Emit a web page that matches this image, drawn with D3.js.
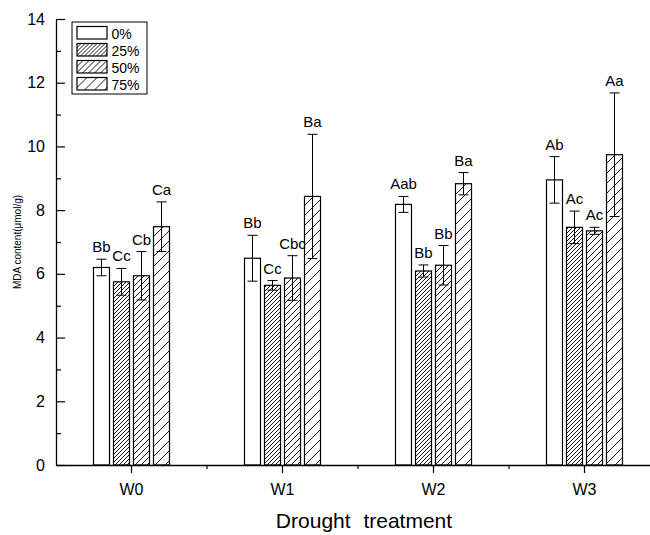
<!DOCTYPE html>
<html>
<head>
<meta charset="utf-8">
<script src="https://cdn.jsdelivr.net/npm/d3@7"></script>
<style>
  body { margin: 0; background: #fff; }
  svg text { font-family: "Liberation Sans", Arial, sans-serif; fill: #000; }
</style>
</head>
<body>
<div id="chart"></div>
<script>
// treatments on the x axis and the four drought levels (series)
const categories = ["W0", "W1", "W2", "W3"];
const series = ["0%", "25%", "50%", "75%"];

// MDA content per series, one value per treatment
const mean0 = [6.20, 6.49, 8.18, 8.95];
const mean25 = [5.75, 5.64, 6.09, 7.46];
const mean50 = [5.94, 5.87, 6.27, 7.35];
const mean75 = [7.48, 8.43, 8.83, 9.74];

// standard deviations
const err0 = [0.26, 0.72, 0.25, 0.73];
const err25 = [0.42, 0.15, 0.19, 0.51];
const err50 = [0.76, 0.70, 0.62, 0.11];
const err75 = [0.78, 1.95, 0.35, 1.94];

// significance letters
const sig0 = ["Bb", "Bb", "Aab", "Ab"];
const sig25 = ["Cc", "Cc", "Bb", "Ac"];
const sig50 = ["Cb", "Cbc", "Bb", "Ac"];
const sig75 = ["Ca", "Ba", "Ba", "Aa"];

const yTicks = [0, 2, 4, 6, 8, 10, 12, 14];

const means = [mean0, mean25, mean50, mean75];
const errs = [err0, err25, err50, err75];
const sigs = [sig0, sig25, sig50, sig75];

const rows = [];
categories.forEach((c, i) => {
    series.forEach((s, j) => {
        rows.push({cat: c, ser: s, si: j, v: means[j][i], e: errs[j][i], lab: sigs[j][i]});
    });
});

const W = 650, H = 535;
const svg = d3.select("#chart").append("svg")
    .attr("width", W)
    .attr("height", H);

// hatch patterns, spacing grows with drought level
const defs = svg.append("defs");
const spacing = [0, 4, 6, 10];
spacing.forEach((s, j) => {
    if (j === 0) return;
    const p = defs.append("pattern")
        .attr("id", "hatch" + j)
        .attr("patternUnits", "userSpaceOnUse")
        .attr("width", s)
        .attr("height", s);
    p.append("rect").attr("width", s).attr("height", s).attr("fill", "#fff");
    p.append("path")
        .attr("d", `M0,${s} L${s},0 M${-s / 2},${s / 2} L${s / 2},${-s / 2} M${s / 2},${s * 1.5} L${s * 1.5},${s / 2}`)
        .attr("stroke", "#000")
        .attr("stroke-width", 0.9);
});
const fillOf = j => j === 0 ? "#fff" : `url(#hatch${j})`;

const x0 = d3.scaleBand().domain(categories).range([56, 660]).paddingInner(0).paddingOuter(0);
const x1 = d3.scaleBand().domain(series).range([-40, 40]).paddingInner(0.2).paddingOuter(0.1);
const y = d3.scaleLinear().domain([0, 14]).range([465, 19]);

const cx = d => x0(d.cat) + x0.bandwidth() / 2;

// bars
svg.append("g").selectAll("rect")
    .data(rows)
    .enter()
    .append("rect")
    .attr("x", d => cx(d) + x1(d.ser))
    .attr("y", d => y(d.v))
    .attr("width", x1.bandwidth())
    .attr("height", d => y(0) - y(d.v))
    .attr("fill", d => fillOf(d.si))
    .attr("stroke", "#000")
    .attr("stroke-width", 1.2);

// error bars
const eb = svg.append("g").attr("stroke", "#000").attr("stroke-width", 1);
const mid = d => cx(d) + x1(d.ser) + x1.bandwidth() / 2;
eb.selectAll(".stem").data(rows).enter().append("line")
    .attr("x1", mid).attr("x2", mid)
    .attr("y1", d => y(d.v - d.e)).attr("y2", d => y(d.v + d.e));
eb.selectAll(".capT").data(rows).enter().append("line")
    .attr("x1", d => mid(d) - 5).attr("x2", d => mid(d) + 5)
    .attr("y1", d => y(d.v + d.e)).attr("y2", d => y(d.v + d.e));
eb.selectAll(".capB").data(rows).enter().append("line")
    .attr("x1", d => mid(d) - 5).attr("x2", d => mid(d) + 5)
    .attr("y1", d => y(d.v - d.e)).attr("y2", d => y(d.v - d.e));

// letters
svg.append("g").selectAll("text")
    .data(rows)
    .enter()
    .append("text")
    .attr("x", mid)
    .attr("y", d => y(d.v + d.e) - 7)
    .attr("text-anchor", "middle")
    .style("font-size", "15px")
    .text(d => d.lab);

// y axis, ticks point inward
const yAxis = svg.append("g").attr("transform", "translate(56,0)")
    .call(d3.axisLeft(y).tickValues(yTicks).tickSize(-9).tickPadding(11).tickSizeOuter(0));
yAxis.select(".domain").attr("stroke-width", 1.3);
yAxis.selectAll(".tick line").attr("stroke-width", 1.2);
yAxis.selectAll(".tick text").style("font-size", "16px");
svg.append("g").attr("transform", "translate(56,0)")
    .call(d3.axisLeft(y).tickValues(d3.range(1, 14, 2)).tickSize(-5).tickFormat("").tickSizeOuter(0))
    .call(g => g.select(".domain").remove())
    .selectAll(".tick line").attr("stroke-width", 1.2);

// x axis, ticks point outward
const xAxis = svg.append("g").attr("transform", "translate(0,465)")
    .call(d3.axisBottom(x0).tickSize(8).tickPadding(11).tickSizeOuter(0));
xAxis.select(".domain").attr("stroke-width", 1.3);
xAxis.selectAll(".tick line").attr("stroke-width", 1.2);
xAxis.selectAll(".tick text").style("font-size", "16px");
const minorX = categories.slice(1).map(c => x0(c));
svg.append("g").selectAll("line").data(minorX).enter().append("line")
    .attr("x1", d => d).attr("x2", d => d)
    .attr("y1", 465).attr("y2", 469)
    .attr("stroke", "#000").attr("stroke-width", 1.2);

// axis titles
svg.append("text")
    .attr("x", 364).attr("y", 528)
    .attr("text-anchor", "middle")
    .style("font-size", "21px")
    .style("word-spacing", "7px")
    .text("Drought treatment");
svg.append("text")
    .attr("transform", "translate(21,242) rotate(-90)")
    .attr("text-anchor", "middle")
    .style("font-size", "10px")
    .text("MDA content(μmol/g)");

// legend
const lg = svg.append("g").attr("transform", "translate(72,22)");
lg.append("rect").attr("width", 75).attr("height", 72)
    .attr("fill", "#fff").attr("stroke", "#000").attr("stroke-width", 1);
const li = lg.selectAll(".item").data(series).enter().append("g")
    .attr("transform", (d, j) => `translate(5,${4.5 + j * 17})`);
li.append("rect").attr("width", 30).attr("height", 12.5)
    .attr("fill", (d, j) => fillOf(j))
    .attr("stroke", "#000").attr("stroke-width", 1.2);
li.append("text").attr("x", 34.5).attr("y", 12)
    .style("font-size", "14px")
    .text(d => d);
</script>
</body>
</html>
